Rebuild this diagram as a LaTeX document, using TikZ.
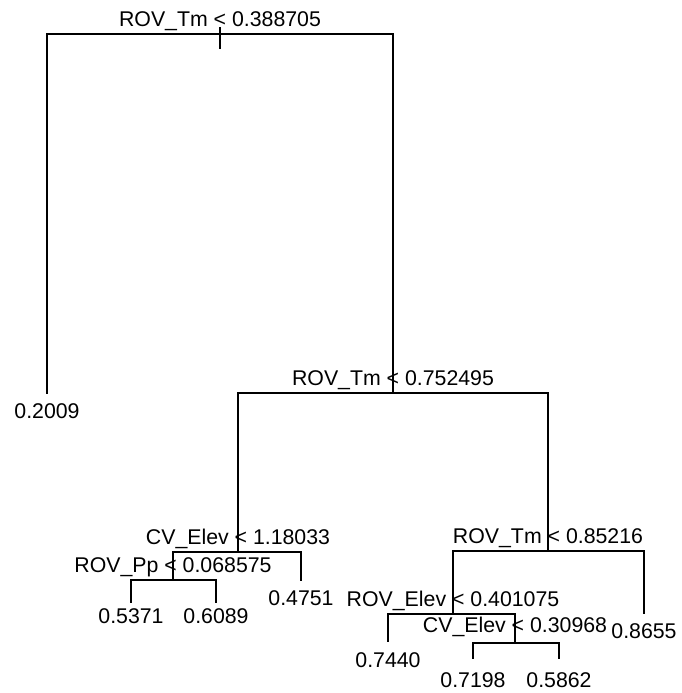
\documentclass[tikz,border=0pt]{standalone}
\usepackage{fontspec}
\setmainfont{Liberation Sans}
\begin{document}
\begin{tikzpicture}[x=1pt,y=-1pt,
  edge/.style={line width=1.7pt, line cap=rect},
  lab/.style={anchor=base, inner sep=0pt, font=\fontsize{21.3}{24}\selectfont}]
\useasboundingbox (0,0) rectangle (681,693);
% split points
\coordinate (r) at (220,34);
\coordinate (n2) at (393,393);
\coordinate (n3) at (238,552);
\coordinate (n4) at (173,580);
\coordinate (n5) at (548,551);
\coordinate (n6) at (453,614);
\coordinate (n7) at (515,643);
% leaf ends
\coordinate (l1) at (47,393);
\coordinate (l2) at (131,602);
\coordinate (l3) at (216,602);
\coordinate (l4) at (301,580);
\coordinate (l5) at (388,641);
\coordinate (l6) at (473,658);
\coordinate (l7) at (559,658);
\coordinate (l8) at (644,613);
\coordinate (rt) at (220,28);
\coordinate (rb) at (220,48);
% labels
\node[lab] (t1) at (220,27) {ROV\_Tm < 0.388705};
\node[lab] (t2) at (393,385) {ROV\_Tm < 0.752495};
\node[lab] (t3) at (238,544) {CV\_Elev < 1.18033};
\node[lab] (t4) at (173,572) {ROV\_Pp < 0.068575};
\node[lab] (t5) at (548,543) {ROV\_Tm < 0.85216};
\node[lab] (t6) at (453,606) {ROV\_Elev < 0.401075};
\node[lab] (t7) at (515,632) {CV\_Elev < 0.30968};
\node[lab] (v1) at (47,418) {0.2009};
\node[lab] (v2) at (131,623) {0.5371};
\node[lab] (v3) at (216,623) {0.6089};
\node[lab] (v4) at (301,605) {0.4751};
\node[lab] (v5) at (388,667) {0.7440};
\node[lab] (v6) at (473,687) {0.7198};
\node[lab] (v7) at (559,687) {0.5862};
\node[lab] (v8) at (644,638) {0.8655};
% edges
\draw[edge] (rt) -- (rb);
\draw[edge] (r) -| (l1);
\draw[edge] (r) -| (n2);
\draw[edge] (n2) -| (n3);
\draw[edge] (n2) -| (n5);
\draw[edge] (n3) -| (n4);
\draw[edge] (n3) -| (l4);
\draw[edge] (n4) -| (l2);
\draw[edge] (n4) -| (l3);
\draw[edge] (n5) -| (n6);
\draw[edge] (n5) -| (l8);
\draw[edge] (n6) -| (l5);
\draw[edge] (n6) -| (n7);
\draw[edge] (n7) -| (l6);
\draw[edge] (n7) -| (l7);
\end{tikzpicture}
\end{document}
